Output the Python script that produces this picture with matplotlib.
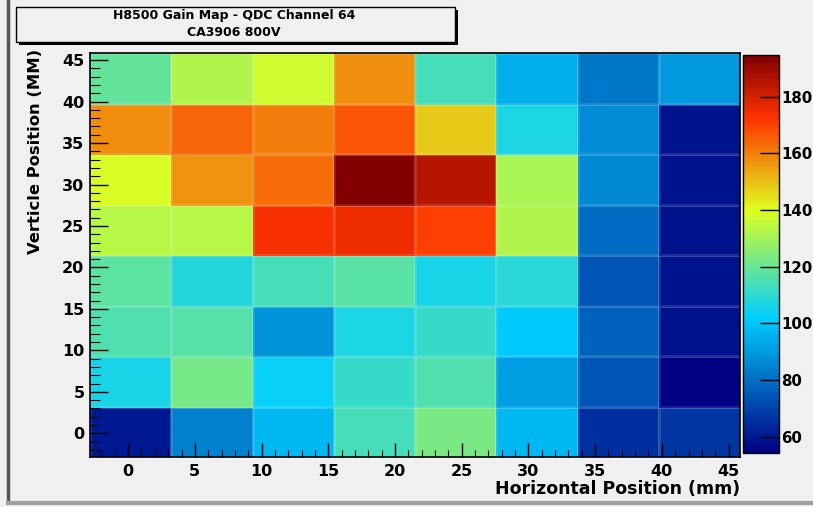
import numpy as np
import matplotlib
matplotlib.use("Agg")
import matplotlib.pyplot as plt
from matplotlib.colors import LinearSegmentedColormap, Normalize
from matplotlib.lines import Line2D
from matplotlib.patches import Rectangle

# gain values, rows from bottom (y ~ 0 mm) to top (y ~ 43 mm), cols left to right
gain = [
    [60.0, 84.0, 97.0, 114.0, 123.0, 97.0, 65.6, 66.5],
    [106.0, 122.5, 103.5, 111.5, 115.7, 91.0, 74.0, 54.2],
    [115.7, 117.0, 88.8, 107.0, 111.5, 101.0, 77.0, 58.5],
    [118.0, 108.0, 114.0, 117.5, 106.0, 109.0, 73.7, 59.0],
    [133.5, 133.0, 173.6, 175.0, 170.0, 132.0, 79.5, 58.6],
    [139.0, 157.0, 163.0, 194.7, 185.0, 131.0, 86.0, 59.0],
    [158.0, 164.0, 160.0, 167.0, 148.0, 107.0, 86.5, 59.0],
    [119.0, 132.0, 137.0, 157.5, 114.0, 94.6, 82.0, 90.0],
]
x_ticks = [0, 5, 10, 15, 20, 25, 30, 35, 40, 45]
y_ticks = [0, 5, 10, 15, 20, 25, 30, 35, 40, 45]
z_ticks = [60, 80, 100, 120, 140, 160, 180]
title_lines = ["H8500 Gain Map - QDC Channel 64", "CA3906 800V"]

z = np.array(gain)
edges = np.linspace(-2.86, 45.86, 9)

# ROOT-style rainbow palette
stops = [0.00, 0.34, 0.61, 0.84, 1.00]
red = [0.00, 0.00, 0.87, 1.00, 0.51]
green = [0.00, 0.81, 1.00, 0.20, 0.00]
blue = [0.51, 1.00, 0.12, 0.00, 0.00]
cmap = LinearSegmentedColormap.from_list(
    "root", [(s, (r, g, b)) for s, r, g, b in zip(stops, red, green, blue)], N=255)

bg = "#f0f0f0"
plt.rcParams['font.family'] = ['DejaVu Sans']
plt.rcParams['font.weight'] = 'bold'

fig = plt.figure(figsize=(8.13, 5.07), dpi=100, facecolor=bg)
W, H = 813.0, 507.0
ax = fig.add_axes([90 / W, 1 - 457 / H, 650 / W, 404 / H])
cax = fig.add_axes([743 / W, 1 - 453 / H, 36 / W, 398 / H])

norm = Normalize(vmin=z.min(), vmax=z.max())
mesh = ax.pcolormesh(edges, edges, z, cmap=cmap, norm=norm,
                     edgecolors=(1, 1, 1, 0.12), linewidth=0.8)
ax.set_xlim(edges[0], edges[-1])
ax.set_ylim(edges[0], edges[-1])

ax.set_xticks(x_ticks)
ax.set_yticks(y_ticks)
ax.set_xticks(np.arange(-2, 46, 1), minor=True)
ax.set_yticks(np.arange(-2, 46, 1), minor=True)
ax.tick_params(axis='x', which='major', direction='in', length=10, width=1,
               labelsize=11.5, pad=5)
ax.tick_params(axis='x', which='minor', direction='in', length=5, width=0.8)
ax.tick_params(axis='y', which='major', direction='in', length=13, width=1,
               labelsize=11.5, pad=4)
ax.tick_params(axis='y', which='minor', direction='in', length=7, width=0.8)
for lab in ax.get_xticklabels() + ax.get_yticklabels():
    lab.set_fontweight('bold')
for sp in ax.spines.values():
    sp.set_linewidth(1.2)

ax.set_xlabel("Horizontal Position (mm)", fontsize=12.5, fontweight='bold')
ax.xaxis.set_label_coords(1.0, -32 / 404)
ax.xaxis.label.set_horizontalalignment('right')
ax.xaxis.label.set_verticalalignment('center')
ax.set_ylabel("Verticle Position (MM)", fontsize=11.8, fontweight='bold')
ax.yaxis.set_label_coords(-54 / 650, (457 - 151) / 404)
ax.yaxis.label.set_verticalalignment('center')
ax.yaxis.label.set_horizontalalignment('center')

cb = fig.colorbar(mesh, cax=cax, ticks=z_ticks)
cb.outline.set_linewidth(1)
cax.tick_params(direction='in', length=14, width=1, labelsize=10.8, pad=1.5)
for lab in cax.get_yticklabels():
    lab.set_fontweight('bold')

# title box with shadow
shadow = Rectangle((19 / W, 1 - 45 / H), 439 / W, 35 / H, transform=fig.transFigure,
                   facecolor='black', edgecolor='none')
box = Rectangle((16 / W, 1 - 42 / H), 439 / W, 35 / H, transform=fig.transFigure,
                facecolor=bg, edgecolor='black', linewidth=1)
fig.patches.extend([shadow, box])
fig.text(234 / W, 1 - 16 / H, title_lines[0], ha='center', va='center',
         fontsize=9, fontweight='bold')
fig.text(234 / W, 1 - 32 / H, title_lines[1], ha='center', va='center',
         fontsize=9, fontweight='bold')

# window edges
fig.add_artist(Line2D([8 / W, 8 / W], [1 - 502 / H, 1], transform=fig.transFigure,
                      color='#555555', linewidth=2.5))
fig.add_artist(Line2D([8 / W, 1], [1 - 503 / H, 1 - 503 / H], transform=fig.transFigure,
                      color='#a0a0a0', linewidth=3))

fig.savefig("out.png", dpi=100, facecolor=bg)
